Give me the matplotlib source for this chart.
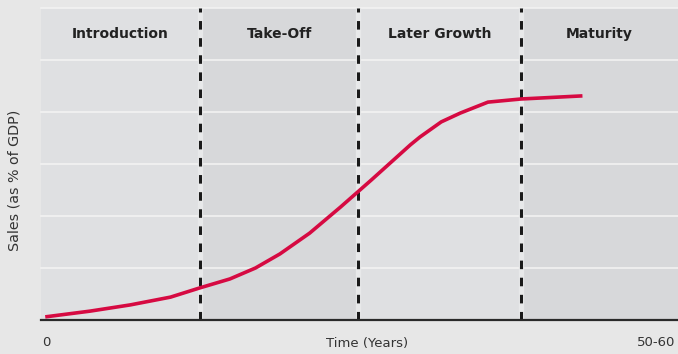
import matplotlib.pyplot as plt

# Stage boundaries (years) and labels
stage_edges = [0, 15, 29.85, 45.2, 60]
stage_labels = ["Introduction", "Take-Off", "Later Growth", "Maturity"]

# Sales curve (as % of GDP, arbitrary grid units)
years = [0.4, 4.6, 8.4, 12.2, 15.0, 17.8, 20.2, 22.5, 25.3, 28.2, 31.1,
         34.8, 35.7, 37.7, 39.5, 42.1, 45.2, 51.0]
sales = [0.06, 0.17, 0.29, 0.44, 0.62, 0.79, 1.0, 1.27, 1.67, 2.17, 2.69,
         3.37, 3.52, 3.81, 3.98, 4.19, 4.25, 4.31]

fig_bg = "#e7e7e7"
band_light = "#dfe0e2"
band_dark = "#d7d8da"
red = "#d60a42"
text_col = "#333333"

fig = plt.figure(figsize=(6.78, 3.54), dpi=100, facecolor=fig_bg)
ax = fig.add_axes([41 / 678, 34 / 354, 637 / 678, 312 / 354])
ax.set_xlim(0, 60)
ax.set_ylim(0, 6)
ax.set_facecolor(band_light)

for i in range(len(stage_labels)):
    ax.axvspan(stage_edges[i], stage_edges[i + 1],
               color=band_light if i % 2 == 0 else band_dark, lw=0, zorder=0)
    ax.text((stage_edges[i] + stage_edges[i + 1]) / 2, 5.5, stage_labels[i],
            ha="center", va="center", fontsize=10, fontweight="bold",
            color="#222222")

for y in range(1, 7):
    ax.axhline(y, color="#f4f4f4", lw=1.1, zorder=1, clip_on=False)

for x in stage_edges[1:-1]:
    ax.axvline(x, color="#e8e9ea", lw=3.8, zorder=2)
    ax.axvline(x, color="#1a1a1a", lw=2.2, zorder=3,
               dashes=(2.8, 2.8))

ax.plot(years, sales, color=red, lw=2.6, zorder=4, solid_capstyle="butt")

ax.axhline(0, color="#2a2a2a", lw=1.6, zorder=5, clip_on=False)

for s in ax.spines.values():
    s.set_visible(False)
ax.set_xticks([])
ax.set_yticks([])

fig.text(15 / 678, 1 - 180 / 354, "Sales (as % of GDP)", rotation=90,
         ha="center", va="center", fontsize=10.3, color=text_col)
fig.text(46 / 678, 1 - 343 / 354, "0", ha="center", va="center",
         fontsize=9.5, color=text_col)
fig.text(367 / 678, 1 - 343 / 354, "Time (Years)", ha="center", va="center",
         fontsize=9.5, color=text_col)
fig.text(675 / 678, 1 - 343 / 354, "50-60", ha="right", va="center",
         fontsize=9.5, color=text_col)

fig.savefig("out.png", dpi=100, facecolor=fig_bg)
